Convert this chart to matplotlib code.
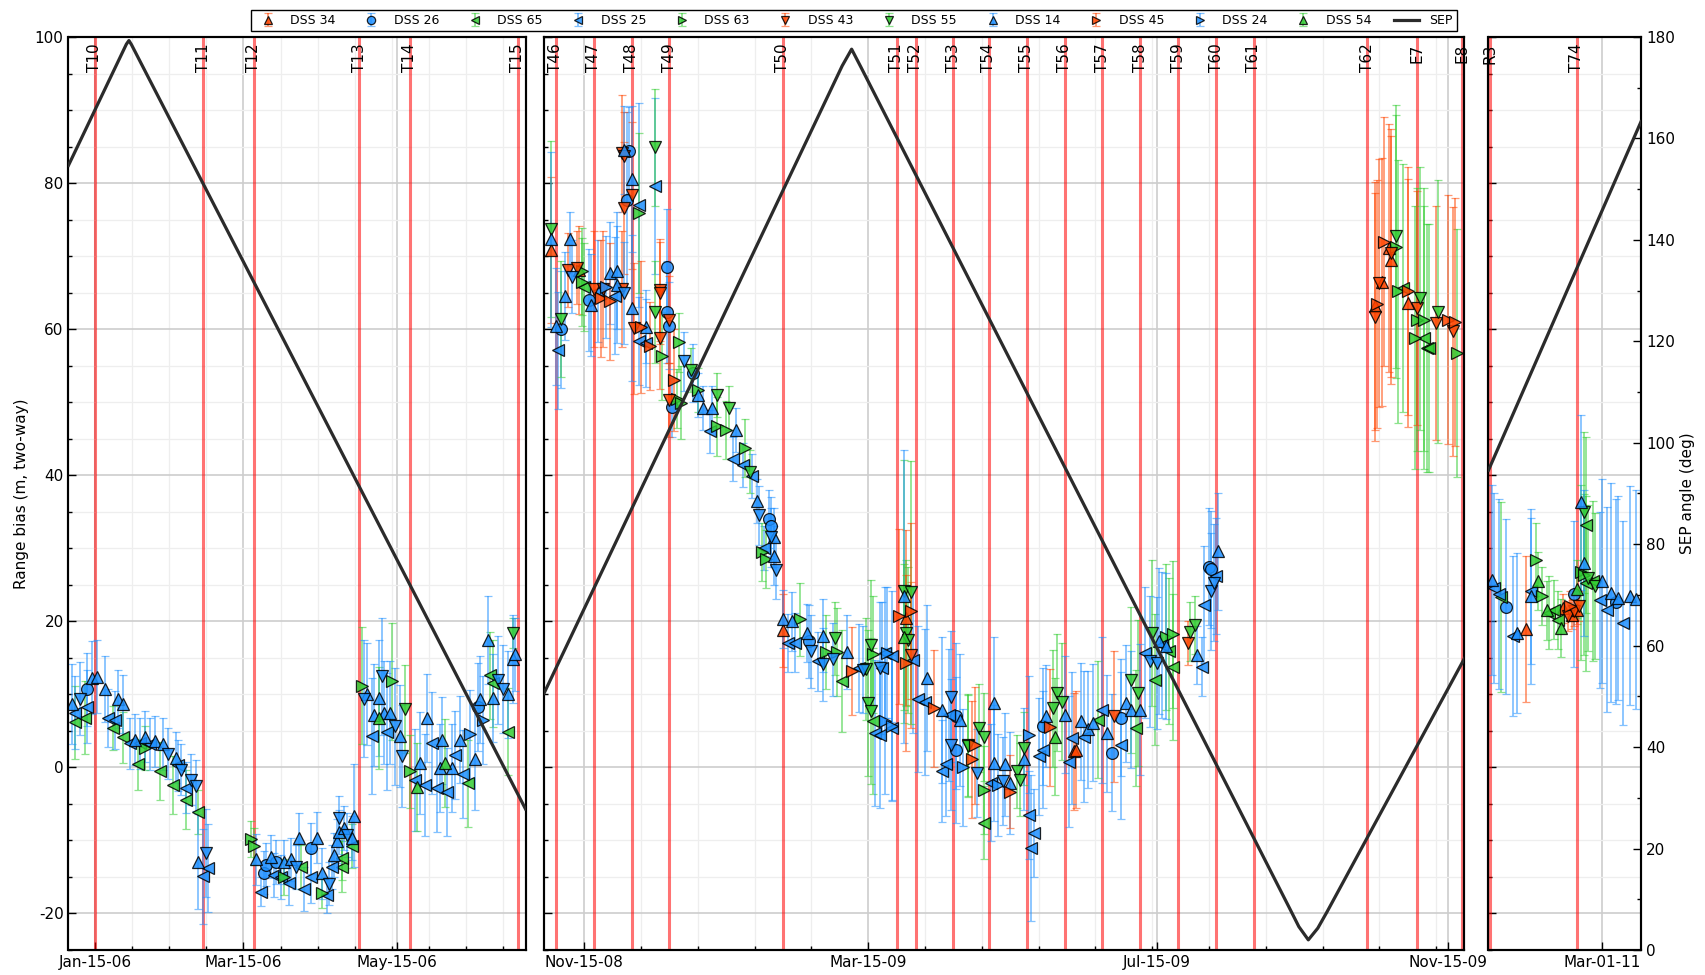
import matplotlib
matplotlib.use("Agg")
import matplotlib.pyplot as plt
import matplotlib.dates as mdates
import matplotlib.colors as mcolors
from matplotlib.ticker import AutoMinorLocator, MultipleLocator, FixedLocator
from matplotlib.transforms import blended_transform_factory
import pandas as pd

plt.rcParams['font.family'] = ['DejaVu Sans']
plt.rcParams['axes.unicode_minus'] = False


def to_dt(x):
    return pd.to_datetime(x, format='mixed')


# ---------------- data ----------------
ORANGE = '#ff4500'
BLUE = '#1e90ff'
GREEN = '#32cd32'

dss34 = [("2008-11-01", 70.9, 10), ("2008-11-13", 68.1, 6), ("2009-02-07", 18.8, 5), ("2009-03-31", 20.5, 12),
         ("2009-06-10", 2.2, 8), ("2009-06-11", 2.4, 8), ("2009-10-15", 63.2, 17), ("2009-10-18", 66.5, 17),
         ("2009-10-21", 71.1, 17), ("2009-10-22", 69.5, 17), ("2009-10-29", 63.6, 17),
         ("2011-01-27", 19.0, 10), ("2011-02-12", 21.8, 2), ("2011-02-16", 20.9, 2), ("2011-02-18", 21.6, 2)]

dss26 = [("2006-01-12", 10.7, 5), ("2006-03-23", -14.4, 3), ("2006-03-24", -13.3, 3), ("2006-03-28", -12.9, 3),
         ("2006-04-11", -11.1, 3.5), ("2006-06-16", 8.3, 6),
         ("2008-11-05", 60.0, 8), ("2008-11-17", 64.0, 7), ("2008-12-03", 77.7, 12), ("2008-12-04", 84.4, 6),
         ("2008-12-20", 68.5, 8), ("2008-12-20", 62.3, 7), ("2008-12-21", 60.5, 6), ("2008-12-22", 49.3, 4),
         ("2008-12-31", 54.0, 4), ("2009-02-01", 34.0, 4), ("2009-02-02", 33.0, 4), ("2009-02-18", 17.3, 5),
         ("2009-04-21", 7.0, 10), ("2009-04-21", 2.4, 10), ("2009-05-28", 5.6, 8), ("2009-06-26", 2.0, 8),
         ("2009-06-30", 6.8, 8), ("2009-08-06", 27.5, 8), ("2009-08-07", 27.1, 8),
         ("2011-01-18", 22.0, 12), ("2011-02-17", 23.8, 10), ("2011-03-07", 22.7, 14)]

dss65 = [("2006-01-07", 6.2, 5), ("2006-01-11", 6.8, 5), ("2006-01-22", 5.4, 3), ("2006-01-26", 4.1, 3.5),
         ("2006-02-01", 0.4, 3.5), ("2006-02-10", -0.5, 4), ("2006-02-15", -2.4, 4), ("2006-02-20", -4.4, 4),
         ("2006-02-25", -6.1, 3), ("2006-04-07", -13.6, 3), ("2006-04-23", -13.6, 3.5), ("2006-04-23", -12.4, 3),
         ("2006-04-27", -10.8, 3), ("2006-06-12", -2.2, 6), ("2006-06-21", 12.6, 6), ("2006-06-22", 11.5, 6),
         ("2006-06-28", 4.9, 6),
         ("2008-11-15", 65.8, 6), ("2009-03-04", 11.8, 7), ("2009-03-17", 6.3, 10), ("2009-05-03", -7.6, 5),
         ("2009-06-20", 6.5, 8), ("2009-07-06", 5.4, 8), ("2009-07-14", 12.0, 9), ("2009-07-20", 15.9, 10),
         ("2009-07-22", 13.8, 10), ("2009-10-27", 65.6, 17), ("2009-11-05", 58.8, 18), ("2009-11-06", 57.4, 17),
         ("2009-11-07", 57.4, 17),
         ("2011-01-16", 23.3, 13), ("2011-02-06", 21.2, 5), ("2011-02-08", 21.6, 4), ("2011-02-10", 20.2, 4),
         ("2011-02-22", 33.2, 12), ("2011-02-22", 25.2, 12), ("2011-02-25", 25.5, 11)]

dss25 = [("2006-01-07", 7.5, 5), ("2006-01-12", 8.3, 5), ("2006-01-20", 6.8, 4), ("2006-01-23", 6.5, 4),
         ("2006-01-29", 3.3, 3.5), ("2006-02-02", 3.3, 3.5), ("2006-02-06", 3.2, 3.5), ("2006-02-17", 0.3, 3.5),
         ("2006-02-20", -2.8, 3.5), ("2006-02-27", -14.9, 6.5), ("2006-03-01", -13.8, 6),
         ("2006-03-22", -17.0, 2), ("2006-03-27", -14.7, 3), ("2006-03-30", -15.0, 3), ("2006-04-02", -15.8, 3),
         ("2006-04-08", -16.7, 3), ("2006-04-11", -15.0, 3.5), ("2006-04-17", -17.5, 2.5), ("2006-04-19", -13.6, 3),
         ("2006-05-05", 4.3, 8), ("2006-05-11", 4.9, 8), ("2006-05-22", -1.7, 7), ("2006-05-26", -2.4, 7),
         ("2006-05-29", 3.3, 7), ("2006-05-31", -2.8, 6), ("2006-06-04", -3.4, 6), ("2006-06-07", 1.7, 6),
         ("2006-06-10", -0.9, 6),
         ("2008-11-04", 57.1, 8), ("2008-11-21", 65.2, 7), ("2008-11-28", 64.6, 8), ("2008-12-08", 77.0, 14),
         ("2008-12-08", 58.4, 6), ("2008-12-11", 58.1, 6), ("2008-12-15", 79.6, 12), ("2009-01-07", 46.0, 3),
         ("2009-01-17", 42.2, 3), ("2009-01-21", 41.4, 3), ("2009-01-25", 39.9, 3), ("2009-01-30", 30.0, 3),
         ("2009-02-09", 17.0, 4), ("2009-02-12", 17.1, 4), ("2009-02-22", 14.5, 4), ("2009-03-11", 13.6, 6),
         ("2009-03-18", 4.7, 10), ("2009-03-20", 4.5, 10), ("2009-03-21", 13.6, 9), ("2009-03-22", 15.7, 9),
         ("2009-03-25", 15.2, 9), ("2009-03-25", 5.4, 10), ("2009-04-03", 14.7, 10), ("2009-04-05", 9.4, 10),
         ("2009-04-08", 9.0, 10), ("2009-04-15", -0.5, 7), ("2009-04-17", 0.4, 7), ("2009-04-18", 7.2, 9),
         ("2009-05-06", -2.1, 8), ("2009-05-22", -6.5, 6), ("2009-05-23", -11.0, 10), ("2009-05-24", -9.0, 6),
         ("2009-05-26", 1.5, 8), ("2009-05-28", 2.4, 8), ("2009-06-08", 0.8, 9), ("2009-06-09", 4.0, 9),
         ("2009-06-14", 4.2, 9), ("2009-06-22", 7.9, 10), ("2009-06-30", 3.0, 10), ("2009-07-10", 15.7, 9),
         ("2009-07-17", 16.8, 10), ("2009-08-03", 13.8, 4), ("2009-08-04", 22.3, 8), ("2009-08-09", 26.2, 8),
         ("2011-01-13", 24.6, 13), ("2011-01-15", 23.7, 13), ("2011-01-21", 18.0, 11), ("2011-01-29", 24.1, 10),
         ("2011-02-28", 22.9, 12), ("2011-03-03", 21.6, 14), ("2011-03-10", 19.8, 14)]

dss63 = [("2006-02-04", 2.7, 3), ("2006-03-18", -9.8, 2.5), ("2006-03-19", -10.8, 2.5), ("2006-03-31", -15.0, 2.5),
         ("2006-04-15", -17.2, 2), ("2006-05-01", 11.2, 8), ("2006-05-13", 11.8, 8), ("2006-05-20", -0.5, 5),
         ("2008-11-14", 67.9, 6), ("2008-11-14", 66.5, 6), ("2008-12-08", 75.9, 11), ("2008-12-18", 56.3, 6),
         ("2008-12-24", 50.5, 4), ("2008-12-25", 58.2, 4), ("2008-12-26", 49.9, 5), ("2009-01-02", 51.7, 3),
         ("2009-01-10", 46.7, 4), ("2009-01-14", 46.2, 4), ("2009-01-22", 43.7, 4), ("2009-01-29", 29.5, 4),
         ("2009-01-31", 28.5, 4), ("2009-02-14", 20.3, 5), ("2009-02-25", 15.8, 5), ("2009-03-02", 15.8, 6),
         ("2009-03-17", 15.5, 8), ("2009-05-03", -3.1, 6), ("2009-07-19", 17.9, 10), ("2009-07-22", 18.2, 10),
         ("2009-10-24", 71.3, 18), ("2009-10-25", 65.2, 18), ("2009-11-01", 58.8, 18), ("2009-11-02", 61.3, 18),
         ("2009-11-05", 61.3, 18), ("2009-11-19", 56.7, 17),
         ("2011-01-31", 28.4, 5), ("2011-02-03", 23.5, 4), ("2011-02-20", 26.7, 12), ("2011-02-21", 26.4, 11)]

dss43 = [("2008-11-08", 68.1, 5), ("2008-11-12", 68.4, 5), ("2008-11-19", 65.5, 8), ("2008-11-23", 65.5, 8),
         ("2008-12-01", 65.5, 8), ("2008-12-01", 84.1, 8), ("2008-12-02", 83.7, 6), ("2008-12-02", 76.6, 9),
         ("2008-12-05", 78.3, 10), ("2008-12-06", 60.1, 9), ("2008-12-17", 65.4, 7), ("2008-12-17", 64.9, 7),
         ("2008-12-17", 58.8, 7), ("2008-12-21", 61.3, 6), ("2008-12-21", 50.3, 5), ("2009-04-02", 15.4, 10),
         ("2009-06-27", 7.0, 9), ("2009-07-28", 17.0, 3), ("2009-10-15", 61.7, 17), ("2009-10-17", 66.3, 17),
         ("2009-10-22", 70.4, 17), ("2009-11-02", 62.9, 16), ("2009-11-10", 60.8, 16), ("2009-11-17", 59.7, 17),
         ("2011-02-14", 20.7, 2), ("2011-02-17", 21.4, 2), ("2011-02-19", 22.1, 2)]

dss55 = [("2006-05-18", 8.0, 6), ("2006-06-30", 18.4, 2),
         ("2008-11-01", 73.7, 12), ("2008-11-05", 61.4, 8), ("2008-12-15", 84.9, 8), ("2008-12-15", 62.3, 7),
         ("2008-12-30", 54.4, 3), ("2009-01-10", 51.0, 3), ("2009-01-15", 49.2, 3), ("2009-01-24", 40.5, 3),
         ("2009-03-01", 17.7, 5), ("2009-03-14", 13.5, 7), ("2009-03-15", 8.8, 10), ("2009-03-16", 7.7, 10),
         ("2009-03-16", 16.7, 9), ("2009-03-30", 24.1, 18), ("2009-04-02", 24.0, 18), ("2009-03-31", 18.4, 10),
         ("2009-04-01", 17.5, 10), ("2009-04-26", 3.1, 7), ("2009-04-26", 2.9, 7), ("2009-05-01", 5.4, 6),
         ("2009-05-03", 4.2, 6), ("2009-05-17", -0.5, 5), ("2009-05-18", -1.7, 5), ("2009-05-20", 2.6, 5),
         ("2009-06-01", 8.1, 8), ("2009-06-03", 10.2, 8), ("2009-06-05", 9.0, 8), ("2009-07-04", 12.0, 10),
         ("2009-07-07", 10.2, 10), ("2009-07-13", 18.4, 10), ("2009-07-29", 18.6, 4), ("2009-07-31", 19.5, 4),
         ("2009-10-24", 72.7, 18), ("2009-11-03", 64.2, 18), ("2009-11-11", 62.4, 18),
         ("2011-02-21", 34.9, 11), ("2011-02-23", 25.9, 10), ("2011-02-26", 24.8, 10)]

dss14 = [("2006-01-06", 8.7, 5.5), ("2006-01-14", 12.3, 5), ("2006-01-16", 12.4, 5), ("2006-01-19", 10.7, 4.5),
         ("2006-01-24", 9.4, 4), ("2006-01-26", 8.7, 4), ("2006-01-31", 3.8, 3.5), ("2006-02-04", 4.2, 3.5),
         ("2006-02-08", 3.6, 3.5), ("2006-02-11", 3.2, 3.5), ("2006-02-16", 1.3, 3.5), ("2006-02-25", -12.9, 6.5),
         ("2006-03-20", -12.6, 3.5), ("2006-03-26", -12.2, 3), ("2006-03-31", -12.9, 3), ("2006-04-03", -12.6, 3),
         ("2006-04-06", -9.7, 3.5), ("2006-04-13", -9.6, 3.5), ("2006-04-15", -14.5, 3.5), ("2006-04-20", -12.0, 3),
         ("2006-04-21", -10.1, 3), ("2006-04-22", -8.8, 3), ("2006-04-24", -8.3, 3), ("2006-04-27", -9.7, 3),
         ("2006-04-28", -6.6, 7), ("2006-05-03", 10.0, 7), ("2006-05-06", 7.2, 7), ("2006-05-08", 9.5, 8),
         ("2006-05-10", 7.5, 7), ("2006-05-12", 7.5, 7), ("2006-05-16", 4.3, 7), ("2006-05-24", 0.6, 7),
         ("2006-05-27", 6.8, 6), ("2006-06-01", -0.1, 6), ("2006-06-02", 3.7, 6), ("2006-06-06", -0.1, 6),
         ("2006-06-09", 3.8, 6), ("2006-06-15", 1.1, 7), ("2006-06-17", 9.3, 6), ("2006-06-20", 17.4, 6),
         ("2006-06-22", 9.5, 6), ("2006-06-28", 10.0, 6), ("2006-06-30", 14.8, 6), ("2006-07-01", 15.5, 5),
         ("2008-11-01", 72.3, 12), ("2008-11-03", 60.4, 8), ("2008-11-07", 64.5, 6), ("2008-11-09", 72.3, 3.7),
         ("2008-11-18", 63.3, 7), ("2008-11-26", 67.7, 7), ("2008-11-29", 68.0, 8), ("2008-11-29", 66.1, 8),
         ("2008-12-02", 84.5, 6), ("2008-12-05", 80.5, 10), ("2008-12-05", 62.9, 10), ("2008-12-11", 60.3, 5),
         ("2009-01-02", 51.0, 3), ("2009-01-04", 49.2, 3), ("2009-01-08", 49.2, 3), ("2009-01-18", 46.2, 3),
         ("2009-01-27", 36.5, 3), ("2009-02-03", 29.0, 4), ("2009-02-03", 31.5, 4), ("2009-02-07", 20.3, 4),
         ("2009-02-11", 20.0, 4), ("2009-02-17", 18.4, 4), ("2009-02-24", 18.0, 5), ("2009-03-06", 15.8, 5),
         ("2009-03-30", 23.4, 20), ("2009-04-09", 12.2, 10), ("2009-04-15", 7.9, 10), ("2009-04-23", 6.5, 9),
         ("2009-05-07", 8.8, 9), ("2009-05-07", 0.6, 8), ("2009-05-12", 0.4, 7), ("2009-05-14", -2.1, 7),
         ("2009-05-20", 1.1, 7), ("2009-05-29", 7.0, 7), ("2009-06-06", 7.2, 8), ("2009-06-13", 6.3, 8),
         ("2009-06-16", 5.2, 8), ("2009-06-18", 6.1, 8), ("2009-06-24", 4.7, 8), ("2009-07-02", 8.8, 8),
         ("2009-07-04", 7.9, 8), ("2009-07-08", 7.9, 9), ("2009-07-16", 17.3, 10), ("2009-07-19", 16.6, 10),
         ("2009-08-01", 15.4, 4), ("2009-08-10", 29.6, 8),
         ("2011-01-12", 25.7, 13), ("2011-01-23", 18.4, 11), ("2011-01-29", 23.4, 12), ("2011-02-20", 36.3, 12),
         ("2011-02-21", 28.0, 10), ("2011-03-01", 25.5, 14), ("2011-03-05", 23.9, 15), ("2011-03-08", 23.2, 14),
         ("2011-03-13", 23.5, 15), ("2011-03-16", 23.0, 15)]

dss45 = [("2008-11-22", 64.2, 8), ("2008-11-26", 63.8, 8), ("2008-12-09", 60.3, 9), ("2008-12-13", 57.7, 6),
         ("2008-12-23", 53.0, 7), ("2009-03-08", 13.2, 6), ("2009-03-28", 20.7, 12), ("2009-04-02", 21.4, 12),
         ("2009-03-31", 14.3, 12), ("2009-04-12", 8.1, 8), ("2009-04-28", 1.1, 8), ("2009-04-29", 3.0, 8),
         ("2009-05-14", -3.3, 5), ("2009-05-31", 5.5, 8), ("2009-10-16", 63.4, 17), ("2009-10-19", 72.0, 17),
         ("2009-10-29", 65.2, 17), ("2009-11-15", 61.3, 17), ("2009-11-18", 61.0, 17),
         ("2011-02-15", 22.1, 2)]

dss24 = [("2006-06-13", 4.6, 6), ("2006-06-18", 6.5, 6),
         ("2008-11-24", 65.8, 7), ("2009-03-22", 6.3, 10), ("2009-03-25", 5.6, 10), ("2009-03-23", 15.7, 9),
         ("2009-04-24", 0.0, 8), ("2009-05-09", -2.4, 7), ("2009-05-22", 4.5, 8)]

dss54 = [("2006-05-08", 6.8, 7), ("2006-05-23", -2.7, 6), ("2006-06-03", 0.6, 6),
         ("2009-03-30", 17.9, 10), ("2009-06-02", 4.2, 8),
         ("2011-02-01", 25.5, 4), ("2011-02-05", 21.5, 4), ("2011-02-11", 19.1, 4), ("2011-02-18", 24.4, 4)]

dss15 = [("2006-01-09", 9.4, 5), ("2006-02-13", 1.9, 3.5), ("2006-02-18", -0.3, 3.5), ("2006-02-22", -1.7, 3.5),
         ("2006-02-24", -2.5, 3.5), ("2006-02-28", -11.7, 6), ("2006-04-05", -13.6, 3), ("2006-04-18", -15.9, 3),
         ("2006-04-22", -6.9, 3), ("2006-04-25", -9.2, 3), ("2006-05-02", 9.4, 8), ("2006-05-09", 12.5, 8),
         ("2006-05-14", 5.6, 8), ("2006-05-17", 1.6, 7), ("2006-06-24", 12.0, 6), ("2006-06-26", 10.7, 6),
         ("2008-11-10", 67.2, 5), ("2008-12-02", 64.9, 7), ("2008-12-27", 55.6, 4), ("2009-01-28", 34.5, 4),
         ("2009-02-02", 31.5, 4), ("2009-02-04", 27.0, 4), ("2009-02-19", 15.9, 5), ("2009-02-24", 14.1, 5),
         ("2009-02-28", 14.8, 5), ("2009-03-13", 13.4, 6), ("2009-03-20", 13.6, 9), ("2009-04-19", 9.7, 9),
         ("2009-04-19", 3.1, 9), ("2009-04-30", -0.8, 6), ("2009-05-11", -1.9, 6), ("2009-07-12", 14.5, 9),
         ("2009-07-15", 14.3, 9), ("2009-08-07", 24.1, 8), ("2009-08-08", 25.3, 8)]

# (label, marker, colour, data) in legend order; DSS 15 is not in the legend
stations = [("DSS 34", "^", ORANGE, dss34), ("DSS 26", "o", BLUE, dss26), ("DSS 65", "<", GREEN, dss65),
            ("DSS 25", "<", BLUE, dss25), ("DSS 63", ">", GREEN, dss63), ("DSS 43", "v", ORANGE, dss43),
            ("DSS 55", "v", GREEN, dss55), ("DSS 14", "^", BLUE, dss14), ("DSS 45", ">", ORANGE, dss45),
            ("DSS 24", ">", BLUE, dss24), ("DSS 54", "^", GREEN, dss54), ("_DSS 15", "v", BLUE, dss15)]

# SEP angle (deg)
sep_dates = ["2006-01-04 12:00", "2006-01-27 12:00", "2006-01-28 12:00", "2006-01-29 12:00", "2006-07-05 00:00",
             "2008-10-29 00:00", "2009-03-04 00:00", "2009-03-08 00:00", "2009-03-12 00:00", "2009-09-09 00:00",
             "2009-09-13 00:00", "2009-09-17 00:00", "2009-09-21 00:00", "2009-09-25 00:00", "2009-11-22 00:00",
             "2011-01-10 12:00", "2011-03-18 00:00"]
sep_vals = [154.7, 178.6, 179.3, 178.5, 27.8,
            50.6, 174.3, 177.6, 174.0, 8.3,
            4.6, 2.0, 4.3, 7.6, 57.5,
            94.6, 163.3]

# flyby events
event_names = ["T10", "T11", "T12", "T13", "T14", "T15",
               "T46", "T47", "T48", "T49", "T50", "T51", "T52", "T53", "T54", "T55", "T56", "T57", "T58",
               "T59", "T60", "T61", "T62", "E7", "E8", "R3", "T74"]
event_dates = ["2006-01-15", "2006-02-27", "2006-03-19", "2006-04-30", "2006-05-20", "2006-07-02",
               "2008-11-03", "2008-11-19", "2008-12-05", "2008-12-21", "2009-02-07", "2009-03-27",
               "2009-04-04", "2009-04-20", "2009-05-05", "2009-05-21", "2009-06-06", "2009-06-22",
               "2009-07-08", "2009-07-24", "2009-08-09", "2009-08-25", "2009-10-12", "2009-11-02",
               "2009-11-21", "2011-01-11", "2011-02-18"]

panel_xlims = [("2006-01-04 12:00", "2006-07-05 00:00"), ("2008-10-29 00:00", "2009-11-22 00:00"),
               ("2011-01-10 12:00", "2011-03-18 00:00")]
panel_major_ticks = [["2006-01-15", "2006-03-15", "2006-05-15"],
                     ["2008-11-15", "2009-03-15", "2009-07-15", "2009-11-15"],
                     ["2011-03-01"]]
panel_minor_n = [4, 5, None]

# ---------------- figure ----------------
W, H = 1706, 975
fig = plt.figure(figsize=(W / 100, H / 100), dpi=100)


def rect(x0, x1, y0=37, y1=950):
    return [x0 / W, 1 - y1 / H, (x1 - x0) / W, (y1 - y0) / H]


axes = [fig.add_axes(rect(68.5, 525.5)), fig.add_axes(rect(544, 1464.5)), fig.add_axes(rect(1488.5, 1641))]

sep_d = to_dt(sep_dates)
ev_d = to_dt(event_dates)
handles = {}
sep_line = None

for i, ax in enumerate(axes):
    x0, x1 = to_dt(panel_xlims[i][0]), to_dt(panel_xlims[i][1])
    ax.set_xlim(x0, x1)
    ax.set_ylim(-25, 100)
    ax.set_axisbelow(True)
    ax.yaxis.set_major_locator(MultipleLocator(20))
    ax.yaxis.set_minor_locator(MultipleLocator(5))
    ax.xaxis.set_major_locator(FixedLocator(mdates.date2num(to_dt(panel_major_ticks[i]))))
    ax.xaxis.set_major_formatter(mdates.DateFormatter('%b-%d-%y'))
    if panel_minor_n[i]:
        ax.xaxis.set_minor_locator(AutoMinorLocator(panel_minor_n[i]))
    ax.grid(which='major', color='#cdcdcd', lw=1.2)
    ax.grid(which='minor', color='#eeeeee', lw=0.9)
    ax.tick_params(which='both', direction='in', top=False, right=False, labelsize=11, width=1)
    ax.tick_params(which='major', length=6)
    ax.tick_params(which='minor', length=3)
    if i > 0:
        ax.tick_params(labelleft=False)
    for s in ax.spines.values():
        s.set_linewidth(1.5)

    # event lines
    trans = blended_transform_factory(ax.transData, ax.transAxes)
    for name, d in zip(event_names, ev_d):
        if x0 <= d <= x1:
            ax.axvline(d, color='red', alpha=0.55, lw=2.2, zorder=1.5)
            ax.text(d, 0.993, name, transform=trans, rotation=90, ha='center', va='top', fontsize=11)

    # measurements
    for label, mk, col, data in stations:
        c = mcolors.to_rgb(col)
        dd = to_dt([p[0] for p in data])
        vv = [p[1] for p in data]
        ee = [p[2] for p in data]
        h = ax.errorbar(dd, vv, yerr=ee, fmt=mk, ms=8.5, color=c, mfc=c + (0.85,), mec=(0, 0, 0, 0.85),
                        mew=0.9, ecolor=c + (0.55,), elinewidth=1.3, capsize=3, capthick=1.2, zorder=3,
                        label=label)
        if i == 1:
            handles[label] = h

    # SEP on twin axis
    tw = ax.twinx()
    tw.set_xlim(x0, x1)
    tw.set_ylim(0, 180)
    m = (sep_d >= x0) & (sep_d <= x1)
    line, = tw.plot(sep_d[m], [v for v, k in zip(sep_vals, m) if k], color='#2b2b2b', lw=2.3, zorder=4)
    sep_line = line
    if i < 2:
        tw.tick_params(which='both', right=False, labelright=False)
    else:
        tw.yaxis.set_major_locator(MultipleLocator(20))
        tw.yaxis.set_minor_locator(MultipleLocator(10))
        tw.tick_params(which='both', direction='in', labelsize=11, width=1)
        tw.tick_params(which='major', length=6)
        tw.tick_params(which='minor', length=3)
        tw.set_ylabel('SEP angle (deg)', fontsize=11)
    for s in tw.spines.values():
        s.set_linewidth(1.5)

axes[0].set_ylabel('Range bias (m, two-way)', fontsize=11)

leg_labels = [s[0] for s in stations if not s[0].startswith('_')]
leg_handles = [handles[l] for l in leg_labels] + [sep_line]
leg_labels = leg_labels + ['SEP']
fig.legend(leg_handles, leg_labels, loc='upper center', bbox_to_anchor=(0.5006, 0.9965), ncol=12,
           fontsize=9, frameon=True, fancybox=False, edgecolor='black', framealpha=1,
           markerscale=0.7, handlelength=2.0, columnspacing=1.85, borderpad=0.35)

fig.savefig('out.png', dpi=100)
